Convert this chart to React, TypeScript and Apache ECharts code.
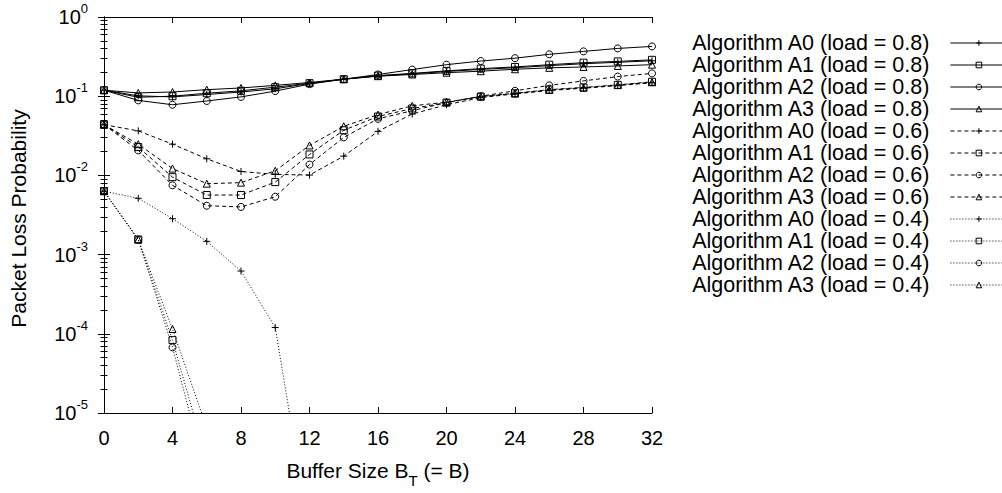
import React, { useEffect, useRef } from "react";
import * as echarts from "echarts";

// ---------- data ----------
const bufferSizes = [0, 2, 4, 6, 8, 10, 12, 14, 16, 18, 20, 22, 24, 26, 28, 30, 32];

// load = 0.8
const a0Load08 = [0.119, 0.101, 0.098, 0.105, 0.113, 0.124, 0.145, 0.164, 0.18, 0.192, 0.205, 0.218, 0.229, 0.243, 0.257, 0.268, 0.28];
const a1Load08 = [0.119, 0.097, 0.1, 0.109, 0.117, 0.13, 0.146, 0.164, 0.182, 0.194, 0.209, 0.223, 0.234, 0.25, 0.265, 0.275, 0.288];
const a2Load08 = [0.119, 0.0885, 0.078, 0.087, 0.098, 0.116, 0.142, 0.164, 0.188, 0.217, 0.25, 0.278, 0.302, 0.338, 0.368, 0.401, 0.425];
const a3Load08 = [0.119, 0.11, 0.113, 0.121, 0.127, 0.137, 0.149, 0.164, 0.179, 0.188, 0.198, 0.207, 0.219, 0.228, 0.234, 0.241, 0.25];

// load = 0.6
const a0Load06 = [0.0437, 0.0365, 0.0248, 0.0162, 0.0112, 0.0103, 0.0101, 0.0175, 0.036, 0.0596, 0.078, 0.096, 0.107, 0.118, 0.126, 0.136, 0.148];
const a1Load06 = [0.0437, 0.0228, 0.0095, 0.00565, 0.00565, 0.00823, 0.0184, 0.0372, 0.0554, 0.07, 0.083, 0.099, 0.109, 0.121, 0.129, 0.139, 0.152];
const a2Load06 = [0.0437, 0.0207, 0.0075, 0.00414, 0.004, 0.00538, 0.0137, 0.0302, 0.0518, 0.0656, 0.083, 0.1, 0.117, 0.137, 0.156, 0.177, 0.194];
const a3Load06 = [0.0437, 0.0248, 0.0122, 0.00786, 0.0081, 0.01145, 0.0239, 0.0417, 0.0586, 0.0756, 0.084, 0.099, 0.108, 0.12, 0.128, 0.138, 0.15];

// load = 0.4 (values fall below the axis minimum afterwards)
const a0Load04 = [0.00632, 0.00514, 0.00284, 0.00147, 0.00062, 0.00012, 0.0000003];
const a1Load04 = [0.00632, 0.00155, 0.0000832, 0.0000025];
const a2Load04 = [0.00632, 0.00155, 0.0000674, 0.0000015];
const a3Load04 = [0.00632, 0.00155, 0.000115, 0.0000065];

const algorithms = ["A0", "A1", "A2", "A3"];
const loads = ["0.8", "0.6", "0.4"];
const seriesValues: number[][][] = [
  [a0Load08, a1Load08, a2Load08, a3Load08],
  [a0Load06, a1Load06, a2Load06, a3Load06],
  [a0Load04, a1Load04, a2Load04, a3Load04],
];

const FONT = "'Liberation Sans', Arial, Helvetica, sans-serif";
const PLUS = "path://M0,5L10,5M5,0L5,10";
const symbolFor: Record<string, string> = { A0: PLUS, A1: "rect", A2: "circle", A3: "triangle" };
const dashFor: Record<string, any> = { "0.8": "solid", "0.6": [4, 3], "0.4": [1, 2] };

export default function App() {
  const ref = useRef<HTMLDivElement>(null);

  useEffect(() => {
    document.body.style.margin = "0";
    if (!ref.current) return;
    const chart = echarts.init(ref.current, undefined, { renderer: "svg" });

    const names: string[] = [];
    const series: any[] = [];
    loads.forEach((load, li) => {
      algorithms.forEach((alg, ai) => {
        const name = `Algorithm ${alg} (load = ${load})`;
        names.push(name);
        const vals = seriesValues[li][ai];
        series.push({
          name,
          type: "line",
          data: vals.map((v, i) => [bufferSizes[i], v]),
          symbol: symbolFor[alg],
          symbolSize: 7,
          showAllSymbol: true,
          clip: true,
          lineStyle: { color: "#000", width: 1, type: dashFor[load] },
          itemStyle: { color: "none", borderColor: "#000", borderWidth: 1 },
          emphasis: { disabled: true },
          z: 3,
        });
      });
    });

    const axisLine = { show: true, lineStyle: { color: "#000", width: 1 } };
    const axisTick = { show: true, inside: true, length: 6, lineStyle: { color: "#000", width: 1 } };
    const minorTick = { show: true, splitNumber: 9, length: 3.5, lineStyle: { color: "#000", width: 1 } };

    chart.setOption({
      animation: false,
      textStyle: { fontFamily: FONT, color: "#000" },
      grid: { left: 103, right: 350, top: 17, bottom: 69, show: false },
      legend: {
        orient: "vertical",
        left: 686,
        top: 27,
        align: "right",
        itemWidth: 57,
        itemHeight: 7,
        itemGap: 0,
        selectedMode: false,
        data: names,
        itemStyle: { borderWidth: 1 },
        lineStyle: { width: 1 },
        textStyle: { fontFamily: FONT, fontSize: 21.5, color: "#000", lineHeight: 21.7, padding: [0, 16, 0, 0] },
      },
      xAxis: [
        {
          type: "value",
          min: 0,
          max: 32,
          interval: 4,
          position: "bottom",
          axisLine,
          axisTick,
          splitLine: { show: false },
          axisLabel: { fontSize: 20, color: "#000", margin: 15, fontFamily: FONT },
          name: "{a|Buffer Size B}{s|T}{a| (= B)}",
          nameLocation: "middle",
          nameGap: 47,
          nameTextStyle: {
            fontFamily: FONT,
            color: "#000",
            rich: {
              a: { fontSize: 21, lineHeight: 21, verticalAlign: "top", fontFamily: FONT, color: "#000" },
              s: { fontSize: 15, lineHeight: 15, verticalAlign: "top", padding: [13, 0, 0, 0], fontFamily: FONT, color: "#000" },
            },
          },
        },
        {
          type: "value",
          min: 0,
          max: 32,
          interval: 4,
          position: "top",
          axisLine,
          axisTick,
          splitLine: { show: false },
          axisLabel: { show: false },
        },
      ],
      yAxis: [
        {
          type: "log",
          logBase: 10,
          min: 0.00001,
          max: 1,
          position: "left",
          axisLine,
          axisTick,
          minorTick,
          splitLine: { show: false },
          minorSplitLine: { show: false },
          axisLabel: {
            margin: 16,
            formatter: (v: number) => `{b|10}{s|${Math.round(Math.log10(v))}}`,
            rich: {
              b: { fontSize: 20, lineHeight: 20, verticalAlign: "bottom", fontFamily: FONT, color: "#000" },
              s: { fontSize: 13, lineHeight: 13, verticalAlign: "bottom", padding: [0, 0, 12, 0], fontFamily: FONT, color: "#000" },
            },
          },
          name: "Packet Loss Probability",
          nameLocation: "middle",
          nameRotate: 90,
          nameGap: 75,
          nameTextStyle: { fontSize: 21, fontFamily: FONT, color: "#000", padding: [0, 7, 0, 0] },
        },
        {
          type: "log",
          logBase: 10,
          min: 0.00001,
          max: 1,
          position: "right",
          axisLine,
          axisTick,
          minorTick,
          splitLine: { show: false },
          minorSplitLine: { show: false },
          axisLabel: { show: false },
        },
      ],
      series,
    });

    return () => chart.dispose();
  }, []);

  return <div ref={ref} style={{ width: 1002, height: 493 }} />;
}
